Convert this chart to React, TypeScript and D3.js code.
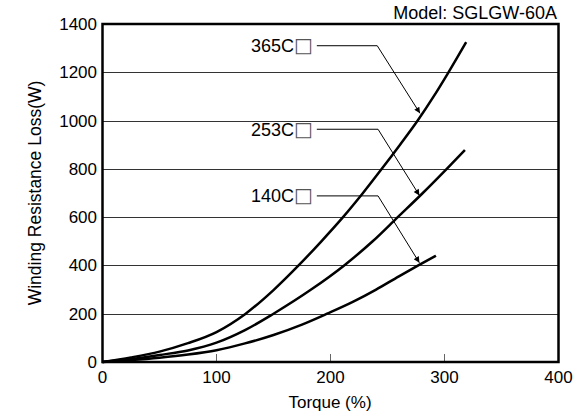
import React from "react";
import * as d3 from "d3";

const W = 585;
const H = 418;

const xTicks = [0, 100, 200, 300, 400];
const yTicks = [0, 200, 400, 600, 800, 1000, 1200, 1400];
const gridTicks = [200, 400, 600, 800, 1000, 1200];

const torque365 = [0, 25, 50, 75, 100, 125, 150, 172, 192, 211, 228.5, 245, 261, 276.5, 290.5, 303.5, 319];
const loss365 = [0, 19, 43, 78, 124, 198, 298, 400, 500, 600, 700, 800, 900, 1000, 1100, 1200, 1325];

const torque253 = [0, 25, 50, 75, 100, 125, 150, 183, 212, 237, 259, 281, 302, 318];
const loss253 = [0, 12, 29, 48, 80, 132, 200, 300, 400, 500, 600, 700, 800, 878];

const torque140 = [0, 25, 50, 75, 100, 125, 150, 175, 197, 220, 240, 260, 277, 292.5];
const loss140 = [0, 8, 18, 31, 49, 77, 112, 155, 200, 250, 300, 355, 400, 440];

const seriesNames = ["365C", "253C", "140C"];
// annotation anchors in data units: [label end x, line end x, line y, arrow tip x, arrow tip y]
const annotations = [
  [188, 241, 1310, 278.5, 1030],
  [188, 241.7, 964, 278, 690],
  [188, 241.7, 688, 278, 411],
];

const FONT = "'Liberation Sans', Arial, Helvetica, sans-serif";

export default function App() {
  const x = d3.scaleLinear().domain([0, 400]).range([102.5, 558.5]);
  const y = d3.scaleLinear().domain([0, 1400]).range([362, 24]);
  const line = d3
    .line<[number, number]>()
    .x((d) => x(d[0]))
    .y((d) => y(d[1]))
    .curve(d3.curveMonotoneX);

  const series: [number, number][][] = [
    torque365.map((t, i) => [t, loss365[i]]),
    torque253.map((t, i) => [t, loss253[i]]),
    torque140.map((t, i) => [t, loss140[i]]),
  ];

  return (
    <svg
      width={W}
      height={H}
      style={{ position: "absolute", left: 0, top: 0, background: "#fff" }}
      fontFamily={FONT}
    >
      <defs>
        <marker
          id="arr"
          viewBox="0 0 10 10"
          refX="10"
          refY="5"
          markerWidth="10"
          markerHeight="6"
          markerUnits="userSpaceOnUse"
          orient="auto"
        >
          <path d="M0,0 L10,5 L0,10 z" fill="#000" />
        </marker>
      </defs>
      <rect width={W} height={H} fill="#fff" />
      {gridTicks.map((t) => (
        <line
          key={t}
          x1={x(0)}
          x2={x(400)}
          y1={Math.round(y(t)) + 0.5}
          y2={Math.round(y(t)) + 0.5}
          stroke="#333"
          strokeWidth={1}
        />
      ))}
      {[100, 200, 300].map((t) => (
        <line
          key={t}
          x1={x(t)}
          x2={x(t)}
          y1={y(0)}
          y2={y(0) - 8}
          stroke="#666"
          strokeWidth={1}
        />
      ))}
      {series.map((s, i) => (
        <path key={i} d={line(s) || ""} fill="none" stroke="#000" strokeWidth={2.5} />
      ))}
      <rect
        x={x(0)}
        y={y(1400)}
        width={x(400) - x(0)}
        height={y(0) - y(1400)}
        fill="none"
        stroke="#000"
        strokeWidth={2.5}
      />
      {annotations.map((a, i) => (
        <g key={i}>
          <text
            x={x(a[0]) - 4}
            y={y(a[2]) + 6.5}
            textAnchor="end"
            fontSize={18}
            fill="#000"
          >
            {seriesNames[i]}
            <tspan fontFamily="'DejaVu Sans'" fontSize={20} fill="#555">
              {"\u25A1"}
            </tspan>
          </text>
          <polyline
            points={`${x(a[0])},${y(a[2])} ${x(a[1])},${y(a[2])} ${x(a[3])},${y(a[4])}`}
            fill="none"
            stroke="#000"
            strokeWidth={1}
            markerEnd="url(#arr)"
          />
        </g>
      ))}
      {yTicks.map((t) => (
        <text
          key={t}
          x={97}
          y={y(t) + 6}
          textAnchor="end"
          fontSize={17}
          fill="#000"
        >
          {t}
        </text>
      ))}
      {xTicks.map((t) => (
        <text key={t} x={x(t)} y={383} textAnchor="middle" fontSize={17} fill="#000">
          {t}
        </text>
      ))}
      <text x={330} y={408} textAnchor="middle" fontSize={17} fill="#000">
        Torque (%)
      </text>
      <text
        transform={`translate(41,${(y(0) + y(1400)) / 2}) rotate(-90)`}
        textAnchor="middle"
        fontSize={17.5}
        fill="#000"
      >
        Winding Resistance Loss(W)
      </text>
      <text x={557} y={19} textAnchor="end" fontSize={18} fill="#000">
        Model: SGLGW-60A
      </text>
    </svg>
  );
}
